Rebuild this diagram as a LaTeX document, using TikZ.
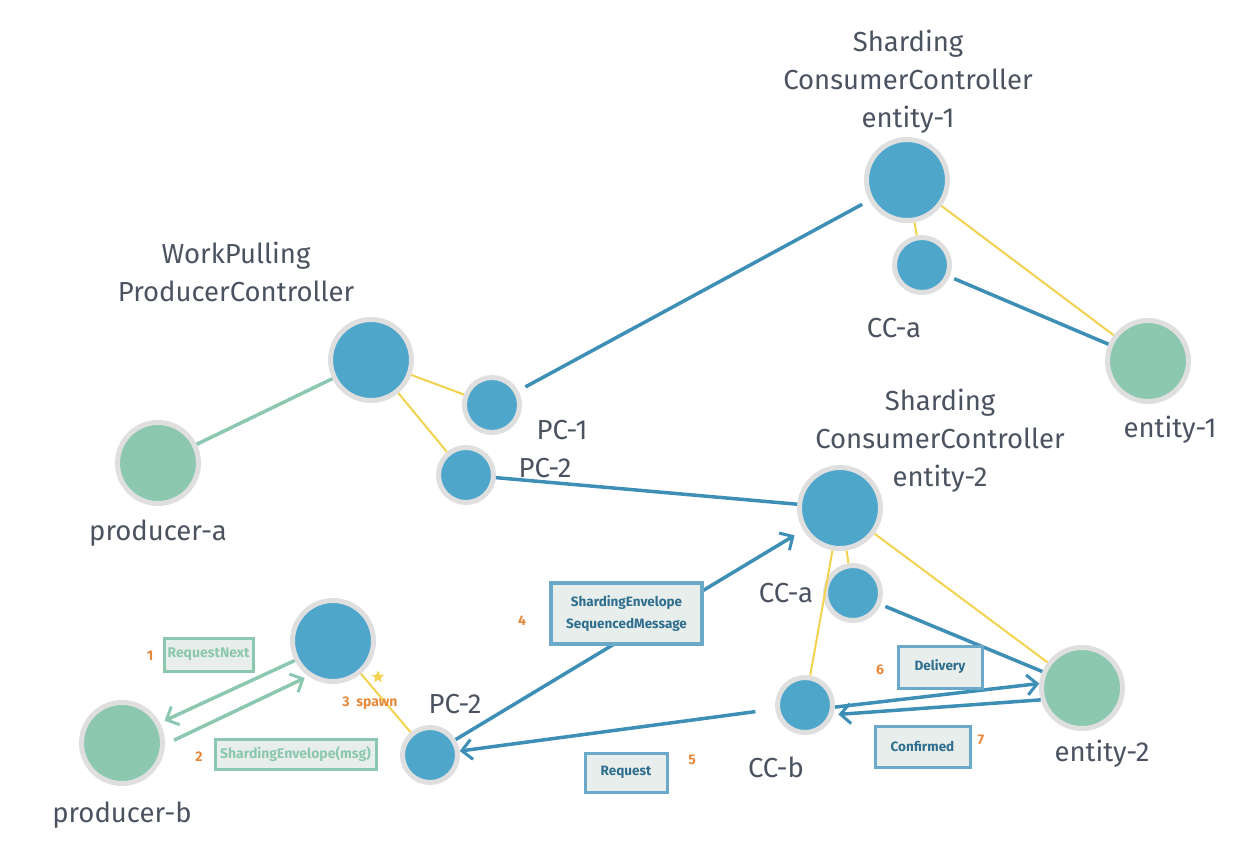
\documentclass[tikz,border=0pt]{standalone}
\usepackage{fontspec}
\setmainfont{Fira Sans}
\usetikzlibrary{positioning,arrows.meta,shapes.geometric}
\definecolor{nodeblue}{HTML}{4FA6CB}
\definecolor{nodegreen}{HTML}{8CC8B0}
\definecolor{ringgray}{HTML}{DFDFE0}
\definecolor{lineblue}{HTML}{3D8FB5}
\definecolor{linegreen}{HTML}{8CC8B0}
\definecolor{spawnyellow}{HTML}{F2D24E}
\definecolor{numorange}{HTML}{E8883A}
\definecolor{labelgray}{HTML}{4B5361}
\definecolor{boxfill}{HTML}{E8EEEB}
\definecolor{boxblue}{HTML}{6AAAC8}
\definecolor{boxtext}{HTML}{2F6E8E}
\tikzset{>={Straight Barb[length=10pt,width=20pt,line width=3pt]},
  actor/.style={circle,draw=ringgray,line width=5pt,fill=nodeblue,inner sep=0pt,minimum size=81pt},
  subactor/.style={actor,minimum size=55pt},
  entity/.style={actor,fill=nodegreen},
  lbl/.style={text=labelgray,font=\fontsize{27.5}{38}\selectfont,align=center},
  msgline/.style={draw=lineblue,line width=3.5pt},
  grnline/.style={draw=linegreen,line width=3.5pt},
  spawnline/.style={draw=spawnyellow,line width=2pt},
  msgbox/.style={draw=boxblue,fill=boxfill,line width=3pt,text=boxtext,align=center,
    font=\bfseries\fontsize{13.5}{22}\selectfont,inner sep=2pt},
  grnbox/.style={msgbox,draw=linegreen,text=linegreen,font=\bfseries\fontsize{14}{22}\selectfont},
  num/.style={text=numorange,font=\bfseries\fontsize{14}{16}\selectfont}
}

\begin{document}
\begin{tikzpicture}[x=1pt,y=-1pt]
\useasboundingbox (0,0) rectangle (1241,843);
% producer side
\node[actor] (wp) at (371,360) {};
\node[subactor] (pc1) at (492,405) {};
\node[subactor] (pc2) at (466,475) {};
\node[entity] (proda) at (158,463) {};
\node[lbl] (wplbl) at (236,272) {WorkPulling\\ProducerController};
\node[lbl] (pc1lbl) at (562,430) {PC-1};
\node[lbl] (pc2lbl) at (545,468) {PC-2};
\node[lbl] (prodalbl) at (158,533) {producer-a};
% consumer for entity-1
\node[actor] (sc1) at (907,180) {};
\node[subactor] (cca1) at (922,265) {};
\node[entity] (ent1) at (1148,361) {};
\node[lbl] (sc1lbl) at (908,82) {Sharding\\ConsumerController\\entity-1};
\node[lbl] (cca1lbl) at (894,328) {CC-a};
\node[lbl] (ent1lbl) at (1170,430) {entity-1};
% consumer for entity-2
\node[actor] (sc2) at (840,508) {};
\node[subactor] (cca2) at (853,593) {};
\node[subactor] (ccb) at (805,705) {};
\node[entity] (ent2) at (1082,688) {};
\node[lbl] (sc2lbl) at (940,441) {Sharding\\ConsumerController\\entity-2};
\node[lbl] (cca2lbl) at (786,593) {CC-a};
\node[lbl] (ccblbl) at (776,767) {CC-b};
\node[lbl] (ent2lbl) at (1102,754) {entity-2};
% producer-b side
\node[actor] (wpb) at (333,641) {};
\node[subactor] (pc2b) at (430,755) {};
\node[entity] (prodb) at (122,743) {};
\node[lbl] (pc2blbl) at (455,704) {PC-2};
\node[lbl] (prodblbl) at (122,815) {producer-b};

% links
\draw[grnline] (proda) -- (wp);
\draw[spawnline] (wp) -- (pc1);
\draw[spawnline] (wp) -- (pc2);
\draw[msgline,shorten <=8pt,shorten >=8pt] (pc1) -- (sc1);
\draw[msgline] (pc2) -- (sc2);
\draw[spawnline] (sc1) -- (cca1);
\draw[spawnline] (sc1) -- (ent1);
\draw[msgline,shorten <=5pt] (cca1) -- (ent1);
\draw[spawnline] (sc2) -- (cca2);
\draw[spawnline] (sc2) -- (ent2);
\draw[spawnline] (sc2) -- (ccb);
\draw[msgline,shorten <=5pt] (cca2) -- (ent2);
\draw[spawnline] (wpb) -- (pc2b);
\draw[grnline,->,shorten >=5pt] (wpb.207) -- (prodb.28);
\draw[grnline,->,shorten <=10pt,shorten >=4pt] (prodb.-2) -- (wpb.-125);
\draw[msgline,->,shorten >=10pt] (pc2b) -- (sc2);
\draw[msgline,->,shorten <=20pt] (ccb) -- (pc2b);
\draw[msgline,->] (ccb.-4) -- (ent2.174);
\draw[msgline,->,shorten >=5pt] (ent2.-164) -- (ccb.-19);

% messages
\node[grnbox,minimum width=89pt,minimum height=33pt] (reqnext) at (208.5,654.5) {RequestNext};
\node[grnbox,minimum width=161pt,minimum height=30pt] (envmsg) at (295.5,754) {ShardingEnvelope(msg)};
\node[msgbox,line width=3.5pt,minimum width=151pt,minimum height=61pt] (seqmsg) at (626.5,613.5) {ShardingEnvelope\\SequencedMessage};
\node[msgbox,minimum width=82pt,minimum height=39pt] (request) at (626,772.5) {Request};
\node[msgbox,minimum width=84pt,minimum height=42pt] (delivery) at (940,667) {Delivery};
\node[msgbox,minimum width=95pt,minimum height=41pt] (confirmed) at (922.5,746.5) {Confirmed};
\node[num] (n1) at (150,656) {1};
\node[num] (n2) at (199,757) {2};
\node[num] (n3) at (370,703) {3~~spawn};
\node[num] (n4) at (522,621) {4};
\node[num] (n5) at (692,760) {5};
\node[num] (n6) at (880,670) {6};
\node[num] (n7) at (981,740) {7};
\node[star,star points=5,star point ratio=2.3,fill=spawnyellow,inner sep=0pt,minimum size=13pt] (spark) at (378,677) {};
\end{tikzpicture}
\end{document}
